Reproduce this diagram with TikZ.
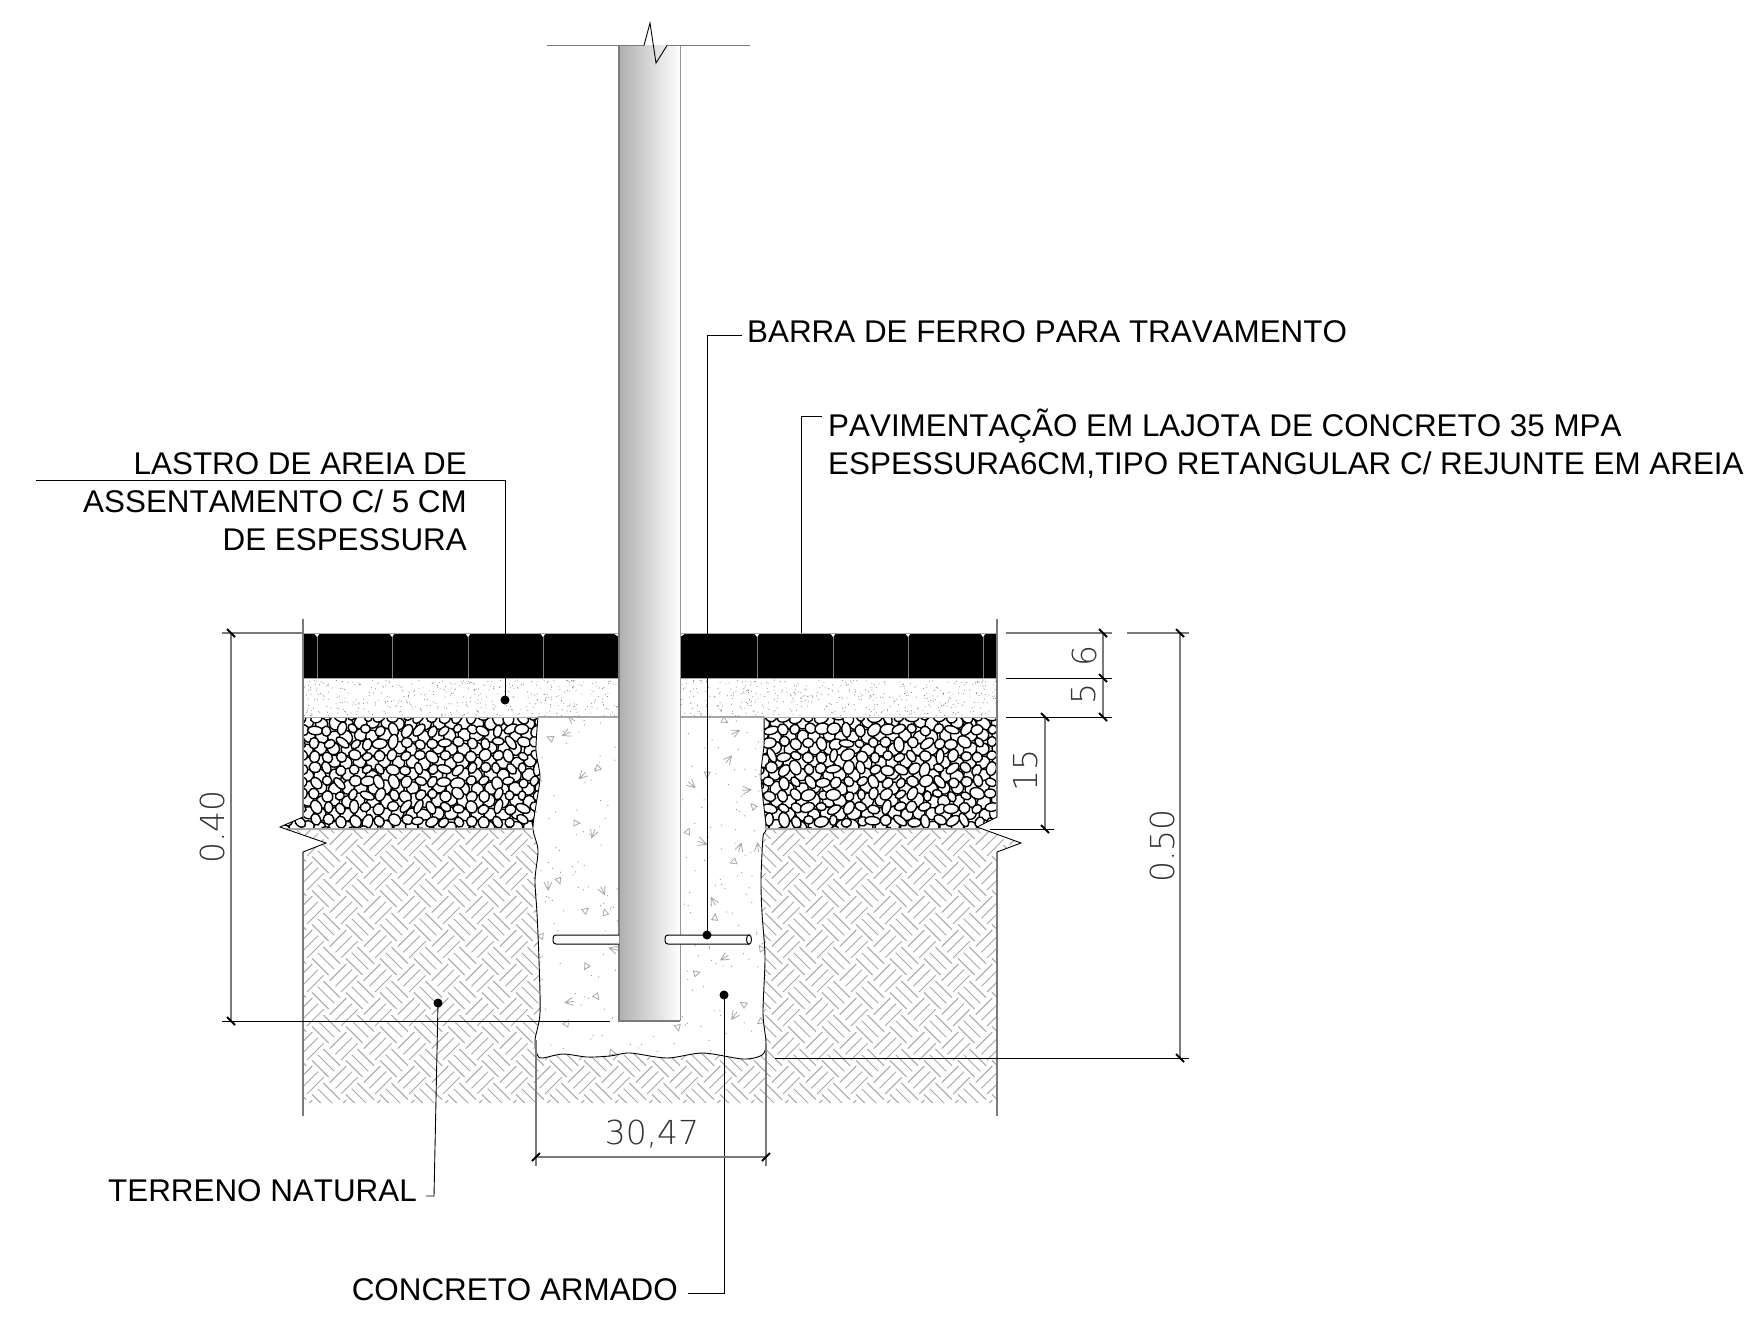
\documentclass[tikz,border=0pt]{standalone}
\usepackage{fontspec}
\usepackage{xcolor}
\usetikzlibrary{calc}
\setmainfont[Kerning=Off]{Liberation Sans}
\newfontfamily\dimfont{DejaVu Sans ExtraLight}
\definecolor{ink}{HTML}{000000}
\definecolor{edge}{HTML}{7A7A7A}
\definecolor{hatchgray}{HTML}{A8A8A8}
\definecolor{speck}{HTML}{8C8C8C}
\definecolor{poleleft}{HTML}{AFAFAF}
\tikzset{
  leader/.style={draw=ink, line width=0.9pt},
  extln/.style={draw=ink, line width=1pt},
  dimln/.style={draw=edge, line width=1.4pt},
  tickmk/.style={draw=ink, line width=2pt},
  border/.style={draw=edge, line width=1.6pt},
  breakln/.style={draw=ink, line width=0.9pt, line join=miter},
  hatchln/.style={draw=hatchgray, line width=1pt},
  peb/.style={draw=ink, fill=white, line width=1.4pt},
  rebar/.style={draw=ink, fill=white, line width=1pt},
  dot/.style={circle, fill=ink, inner sep=0pt, minimum size=9pt},
  lab/.style={text=ink, font=\fontsize{31.38}{38}\selectfont, inner sep=0pt},
  labdim/.style={text=ink!80, font=\fontsize{33}{38}\dimfont, inner sep=0pt},
  mtri/.style={draw=hatchgray, line width=0.8pt},
}
\begin{document}
\begin{tikzpicture}[x=1pt,y=-1pt]
  \useasboundingbox (0,0) rectangle (1754,1336);
  \fill[white] (0,0) rectangle (1754,1336);

  \def\concretepath{
    plot[smooth] coordinates {(538,717) (536,750) (540,777) (536,805) (533,829) (538,850) (535,880) (537,913) (539,960) (540,1013) (535,1040) (537,1054) (542,1058) (563,1054) (587,1057) (610,1056) (630,1053) (667,1058) (703,1053) (743,1059) (762,1055) (766,1043) (763,1013) (765,957) (762,913) (761,880) (763,837) (766,827) (761,777) (764,745) (764,717)} -- cycle}

  \begin{scope}
    \clip (286,829) -- (326,843) -- (303,852) -- (303,1103) -- (997,1103) -- (997,852) -- (1021,843) -- (980,829) -- cycle;
    \foreach \i in {0,...,23}
      \foreach \j in {0,...,9}{
        \pgfmathsetmacro\hx{258+\i*34}
        \pgfmathsetmacro\hy{825+\j*34}
        \foreach \off in {-1,0,1}{
          \draw[hatchln] (\hx+\off*5.66-8.3,\hy-\off*5.66-8.3) -- ++(16.6,16.6);
          \draw[hatchln] (\hx+17.7+\off*5.66-8.3,\hy-17+\off*5.66+8.3) -- ++(16.6,-16.6);
        }
      }
  \end{scope}

  \begin{scope}
    \clip (303,717) -- (997,717) -- (997,817) -- (977,827) -- (981,829) -- (286,829) -- (280,827) -- (303,817) -- cycle;
    \pgfmathsetseed{11}
    \foreach \gy in {723,736,...,840}
      \foreach \gx in {282,295,...,1002}{
        \ifdim\gx pt<548pt \def\usecell{1}\else\ifdim\gx pt>752pt \def\usecell{1}\else\def\usecell{0}\fi\fi
        \ifnum\usecell=1
          \pgfmathsetmacro\ex{\gx+1.5*rand}
          \pgfmathsetmacro\ey{\gy+1.5*rand}
          \pgfmathsetmacro\ra{6+1.5*rnd}
          \pgfmathsetmacro\rr{180*rnd}
          \draw[peb] (\ex,\ey) ellipse[x radius=\ra, y radius=6, rotate=\rr];
        \fi
      }
    \foreach \gy in {717,730,...,834}
      \foreach \gx in {276,289,...,1008}{
        \ifdim\gx pt<548pt \def\usecell{1}\else\ifdim\gx pt>752pt \def\usecell{1}\else\def\usecell{0}\fi\fi
        \ifnum\usecell=1
          \pgfmathsetmacro\ex{\gx+1.8*rand}
          \pgfmathsetmacro\ey{\gy+1.8*rand}
          \pgfmathsetmacro\ra{4.5+3.2*rnd}
          \pgfmathsetmacro\rb{3.6+2*rnd}
          \pgfmathsetmacro\rr{180*rnd}
          \draw[peb] (\ex,\ey) ellipse[x radius=\ra, y radius=\rb, rotate=\rr];
        \fi
      }
  \end{scope}

  \pgfmathsetseed{5}
  \fill[speck] \foreach \k in {1,...,950}{
    ({303+694*rnd},{680+36*rnd}) circle (0.55)};

  \fill[ink] (303,633) rectangle (619,678);
  \fill[ink] (680,633) rectangle (997,678);
  \foreach \jx in {317,392,468,543,757,833,908,983}{
    \draw[draw=edge, line width=0.8pt] (\jx,633) -- (\jx,678);
    \fill[white] (\jx-3,633) -- (\jx+3,633) -- (\jx,637) -- cycle;
  }
  \fill[white] (613,633) -- (619,633) -- (619,637) -- cycle;
  \fill[white] (680,633) -- (686,633) -- (680,637) -- cycle;
  \draw[draw=hatchgray, line width=1pt] (303,633) -- (997,633);

  \fill[white] \concretepath;
  \begin{scope}
    \clip \concretepath;
    \pgfmathsetseed{3}
    \fill[speck] \foreach \k in {1,...,260}{
      ({536+230*rnd},{718+340*rnd}) circle (0.6)};
    \foreach \mx/\my [count=\n] in {550/738,597/769,559/881,577/823,688/831,753/806,733/862,707/775,725/721,586/910,605/912,540/936,586/967,597/997,697/973,715/917,743/1004,760/1022,678/1028,613/1053,567/1023,761/948}{
      \draw[mtri, rotate around={\n*67:(\mx,\my)}] (\mx-3,\my+3) -- (\mx+3,\my+3) -- (\mx,\my-3) -- cycle;
    }
    \foreach \mx/\my [count=\n] in {566/734,582/776,593/834,548/886,603/891,692/785,703/843,747/790,736/732,729/759,740/847,758/847,713/901,571/718,613/949,569/1002,724/958,734/1016}{
      \draw[mtri, rotate around={\n*23:(\mx,\my)}] (\mx+4,\my-4) -- (\mx-4,\my) -- (\mx+4,\my+4) (\mx-4,\my) -- (\mx+5,\my);
    }
  \end{scope}
  \draw[breakln] \concretepath;

  \draw[draw=hatchgray, line width=1pt] (303,678) -- (619,678) (680,678) -- (997,678);
  \draw[draw=hatchgray, line width=1pt] (303,717) -- (997,717);
  \draw[draw=hatchgray, line width=1.2pt] (286,829) -- (534,829) (765,829) -- (980,829);
  \draw[border] (303,619) -- (303,817) (303,852) -- (303,1116);
  \draw[border] (997,619) -- (997,817) (997,852) -- (997,1116);
  \draw[breakln] (303,817) -- (280,827) -- (326,843) -- (303,852);
  \draw[breakln] (997,817) -- (977,827) -- (1021,843) -- (997,852);

  \shade[left color=poleleft, right color=white] (619,45) rectangle (680,1021);
  \draw[draw=edge, line width=1.4pt] (619,45) -- (619,1021) -- (680,1021);
  \draw[draw=edge!80, line width=1pt] (680,45) -- (680,1021);

  \draw[extln, draw=edge, line width=1.2pt] (547,45.5) -- (644,45.5);
  \draw[extln, draw=edge, line width=1.2pt] (667,45.5) -- (750,45.5);
  \draw[breakln] (644,45.5) -- (650,23) -- (656,63) -- (667,45.5);

  \draw[rebar, rounded corners=3] (619,935) -- (553,935) -- (553,944) -- (619,944);
  \draw[rebar, rounded corners=3] (749,935) -- (665,935) -- (665,944) -- (749,944);
  \draw[rebar] (749,939.5) ellipse[x radius=2.5, y radius=4.7];

  \node[dot] (dotlastro) at (505,700) {};
  \node[dot] (dotbarra) at (707,935) {};
  \node[dot] (dotterreno) at (438,1003) {};
  \node[dot] (dotconcreto) at (724,995) {};
  \coordinate (pavfoot) at (801,633);

  \node[lab, anchor=base west] (labbarra) at (747,342) {BARRA DE FERRO PARA TRAVAMENTO};
  \node[lab, anchor=base west] (labpava) at (828,436) {PAVIMENTAÇÃO EM LAJOTA DE CONCRETO 35 MPA};
  \node[lab, anchor=base west] (labpavb) at (828,474) {ESPESSURA6CM,TIPO RETANGULAR C/ REJUNTE EM AREIA};
  \node[lab, anchor=base east] (lablastroa) at (467,474) {LASTRO DE AREIA DE};
  \node[lab, anchor=base east] (lablastrob) at (467,512) {ASSENTAMENTO C/ 5 CM};
  \node[lab, anchor=base east] (lablastroc) at (467,550) {DE ESPESSURA};
  \node[lab, anchor=base east] (labterreno) at (417,1201) {TERRENO NATURAL};
  \node[lab, anchor=base east] (labconcreto) at (678,1300) {CONCRETO ARMADO};

  \coordinate (endbarra) at (742,335);
  \coordinate (endpav) at (822,416);
  \coordinate (endlastro) at (36,480);
  \coordinate (endterreno) at (426,1196);
  \coordinate (bendterreno) at (434,1196);
  \coordinate (endconcreto) at (688,1293);

  \draw[leader] (dotbarra.center) |- (endbarra);
  \draw[leader] (pavfoot) |- (endpav);
  \draw[leader] (dotlastro.center) |- (endlastro);
  \draw[leader] (dotterreno.center) -- (bendterreno) -- (endterreno);
  \draw[leader] (dotconcreto.center) |- (endconcreto);

  \coordinate (DLa) at (231,633);
  \coordinate (DLb) at (231,1021);
  \draw[dimln] (DLa) -- (DLb);
  \draw[dimln, line width=1.2pt] (222,633) -- (303,633);
  \draw[extln] (222,1021) -- (610,1021);
  \node[labdim, rotate=90] (dimforty) at (212,827) {0.40};

  \coordinate (DRa) at (1103,633);
  \coordinate (DRb) at (1103,678);
  \coordinate (DRc) at (1103,717);
  \coordinate (DQa) at (1045,717);
  \coordinate (DQb) at (1045,829);
  \coordinate (DFa) at (1180,633);
  \coordinate (DFb) at (1180,1058);
  \draw[dimln, line width=1.2pt] (1006,633) -- (1112,633);
  \draw[extln] (1006,678) -- (1112,678);
  \draw[extln] (1006,717) -- (1112,717);
  \draw[extln] (990,829) -- (1054,829);
  \draw[dimln, line width=1.2pt] (1127,633) -- (1189,633);
  \draw[extln] (775,1058) -- (1189,1058);
  \draw[dimln] (DRa) -- (DRc);
  \draw[dimln] (DQa) -- (DQb);
  \draw[dimln] (DFa) -- (DFb);
  \node[labdim, rotate=90] (dimsix) at (1084,656) {6};
  \node[labdim, rotate=90] (dimfive) at (1084,694) {5};
  \node[labdim, rotate=90] (dimfifteen) at (1026,770) {15};
  \node[labdim, rotate=90] (dimfifty) at (1162,846) {0.50};

  \coordinate (DBa) at (536,1157);
  \coordinate (DBb) at (766,1157);
  \draw[dimln] (DBa) -- (DBb);
  \draw[dimln] (536,1040) -- (536,1166);
  \draw[dimln, line width=1.1pt] (766,1043) -- (766,1166);
  \node[labdim] (dimwidth) at (652,1134) {30,47};

  \foreach \tk in {DLa,DLb,DRa,DRb,DRc,DQa,DQb,DFa,DFb}
    \draw[tickmk] ($(\tk)+(-4,-4)$) -- ($(\tk)+(4,4)$);
  \foreach \tk in {DBa,DBb}
    \draw[tickmk] ($(\tk)+(-4,4)$) -- ($(\tk)+(4,-4)$);
\end{tikzpicture}
\end{document}
